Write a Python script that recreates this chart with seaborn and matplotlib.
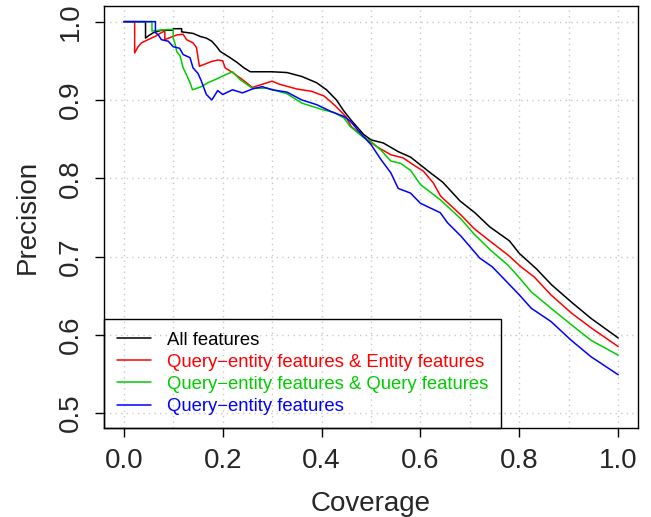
import numpy as np
import pandas as pd
import seaborn as sns
import matplotlib.pyplot as plt
from matplotlib.ticker import MultipleLocator

sns.set_style("white")
plt.rcParams['font.family'] = ['Liberation Sans', 'DejaVu Sans']

# Precision / coverage curves
all_cov = [0.0, 0.044, 0.044, 0.05, 0.06, 0.076, 0.1, 0.1, 0.117, 0.117, 0.14, 0.155, 0.167,
           0.178, 0.188, 0.195, 0.205, 0.215, 0.229, 0.243, 0.256, 0.3, 0.33, 0.36, 0.39, 0.41,
           0.43, 0.445, 0.46, 0.485, 0.5, 0.525, 0.555, 0.58, 0.6, 0.62, 0.645, 0.68, 0.71,
           0.74, 0.78, 0.8, 0.835, 0.865, 0.905, 0.945, 1.0]
all_prec = [1.0, 1.0, 0.979, 0.982, 0.986, 0.989, 0.989, 0.991, 0.991, 0.987, 0.985, 0.981,
            0.979, 0.975, 0.968, 0.962, 0.958, 0.954, 0.948, 0.941, 0.936, 0.936, 0.935, 0.93,
            0.922, 0.913, 0.9, 0.886, 0.874, 0.856, 0.849, 0.845, 0.834, 0.827, 0.817, 0.807,
            0.795, 0.771, 0.756, 0.738, 0.72, 0.704, 0.684, 0.664, 0.642, 0.621, 0.596]

ent_cov = [0.0, 0.022, 0.022, 0.029, 0.036, 0.049, 0.063, 0.076, 0.083, 0.083, 0.107, 0.12,
           0.127, 0.14, 0.147, 0.153, 0.165, 0.177, 0.19, 0.2, 0.205, 0.22, 0.24, 0.26, 0.28,
           0.3, 0.315, 0.35, 0.38, 0.405, 0.42, 0.435, 0.45, 0.46, 0.485, 0.51, 0.54, 0.565,
           0.586, 0.606, 0.626, 0.641, 0.682, 0.708, 0.742, 0.777, 0.803, 0.83, 0.864, 0.905,
           0.945, 1.0]
ent_prec = [1.0, 1.0, 0.96, 0.968, 0.973, 0.977, 0.981, 0.986, 0.988, 0.977, 0.983, 0.984,
            0.977, 0.973, 0.967, 0.943, 0.946, 0.949, 0.951, 0.95, 0.941, 0.935, 0.926, 0.916,
            0.92, 0.924, 0.92, 0.914, 0.911, 0.905, 0.897, 0.888, 0.878, 0.866, 0.853, 0.841,
            0.83, 0.826, 0.817, 0.809, 0.794, 0.777, 0.753, 0.736, 0.719, 0.702, 0.687, 0.674,
            0.651, 0.628, 0.609, 0.585]

qry_cov = [0.0, 0.057, 0.057, 0.07, 0.09, 0.1, 0.1, 0.104, 0.107, 0.114, 0.12, 0.127, 0.134,
           0.139, 0.157, 0.17, 0.185, 0.205, 0.22, 0.235, 0.26, 0.29, 0.33, 0.36, 0.4, 0.425,
           0.445, 0.458, 0.485, 0.5, 0.52, 0.54, 0.56, 0.58, 0.6, 0.641, 0.682, 0.708, 0.742,
           0.777, 0.797, 0.824, 0.864, 0.905, 0.945, 1.0]
qry_prec = [1.0, 1.0, 0.988, 0.989, 0.99, 0.99, 0.979, 0.971, 0.962, 0.956, 0.941, 0.932, 0.922,
            0.913, 0.917, 0.922, 0.926, 0.932, 0.936, 0.926, 0.915, 0.915, 0.908, 0.896, 0.888,
            0.884, 0.877, 0.866, 0.852, 0.847, 0.836, 0.822, 0.819, 0.81, 0.792, 0.772, 0.748,
            0.729, 0.708, 0.689, 0.675, 0.655, 0.634, 0.613, 0.593, 0.574]

qe_cov = [0.0, 0.064, 0.064, 0.07, 0.076, 0.09, 0.1, 0.113, 0.12, 0.134, 0.14, 0.15, 0.157,
          0.167, 0.178, 0.19, 0.2, 0.22, 0.24, 0.26, 0.28, 0.3, 0.33, 0.36, 0.39, 0.42, 0.445,
          0.458, 0.485, 0.5, 0.52, 0.54, 0.555, 0.58, 0.6, 0.64, 0.655, 0.682, 0.72, 0.745,
          0.765, 0.8, 0.824, 0.864, 0.905, 0.945, 1.0]
qe_prec = [1.0, 1.0, 0.986, 0.983, 0.977, 0.975, 0.968, 0.966, 0.958, 0.954, 0.941, 0.934, 0.924,
           0.907, 0.9, 0.912, 0.907, 0.913, 0.909, 0.914, 0.917, 0.913, 0.91, 0.9, 0.894, 0.885,
           0.879, 0.873, 0.853, 0.843, 0.824, 0.807, 0.787, 0.781, 0.768, 0.756, 0.743, 0.726,
           0.698, 0.687, 0.674, 0.651, 0.634, 0.617, 0.593, 0.572, 0.549]

labels = ["All features",
          "Query\u2212entity features & Entity features",
          "Query\u2212entity features & Query features",
          "Query\u2212entity features"]
colors = ["black", "#FF0000", "#00CD00", "#0000FF"]
series = [(all_cov, all_prec), (ent_cov, ent_prec), (qry_cov, qry_prec), (qe_cov, qe_prec)]

fig = plt.figure(figsize=(6.51, 5.17), dpi=100)
ax = fig.add_axes([104 / 651, 1 - 428 / 517, 534 / 651, 422 / 517])

for (cov, prec), lab, col in zip(series, labels, colors):
    df = pd.DataFrame({"Coverage": cov, "Precision": prec})
    sns.lineplot(data=df, x="Coverage", y="Precision", color=col, label=lab,
                 estimator=None, sort=False, linewidth=1.1, ax=ax)

ax.set_xlim(-0.04, 1.04)
ax.set_ylim(0.481, 1.02)
ax.set_xticks([0.0, 0.2, 0.4, 0.6, 0.8, 1.0])
ax.set_xticklabels(["0.0", "0.2", "0.4", "0.6", "0.8", "1.0"])
ax.xaxis.set_minor_locator(MultipleLocator(0.1))
ax.set_yticks([0.5, 0.6, 0.7, 0.8, 0.9, 1.0])
ax.set_yticklabels(["0.5", "0.6", "0.7", "0.8", "0.9", "1.0"], rotation=90, va="center")

ax.grid(True, which="both", axis="x", color="#c8c8c8", linestyle=(0, (1, 3)), linewidth=1)
ax.grid(True, which="major", axis="y", color="#c8c8c8", linestyle=(0, (1, 3)), linewidth=1)
ax.set_axisbelow(True)

ax.tick_params(axis="both", which="major", direction="out", length=6.5, width=1,
               color="black", labelsize=20, pad=8, left=True, bottom=True)
ax.tick_params(axis="x", which="minor", length=0)
for sp in ax.spines.values():
    sp.set_color("black")
    sp.set_linewidth(1)

ax.set_xlabel("Coverage", fontsize=20, labelpad=12)
ax.set_ylabel("Precision", fontsize=20, labelpad=12)

leg = ax.legend(loc="lower left", bbox_to_anchor=(0, 0), borderaxespad=0, fontsize=13.3,
                labelcolor="linecolor", handlelength=1.84, handletextpad=0.86,
                labelspacing=0.28, borderpad=0.7, fancybox=False)
frame = leg.get_frame()
frame.set_alpha(None)
frame.set_facecolor("none")
frame.set_edgecolor("black")
frame.set_linewidth(1)

fig.savefig("out.png", dpi=100)
